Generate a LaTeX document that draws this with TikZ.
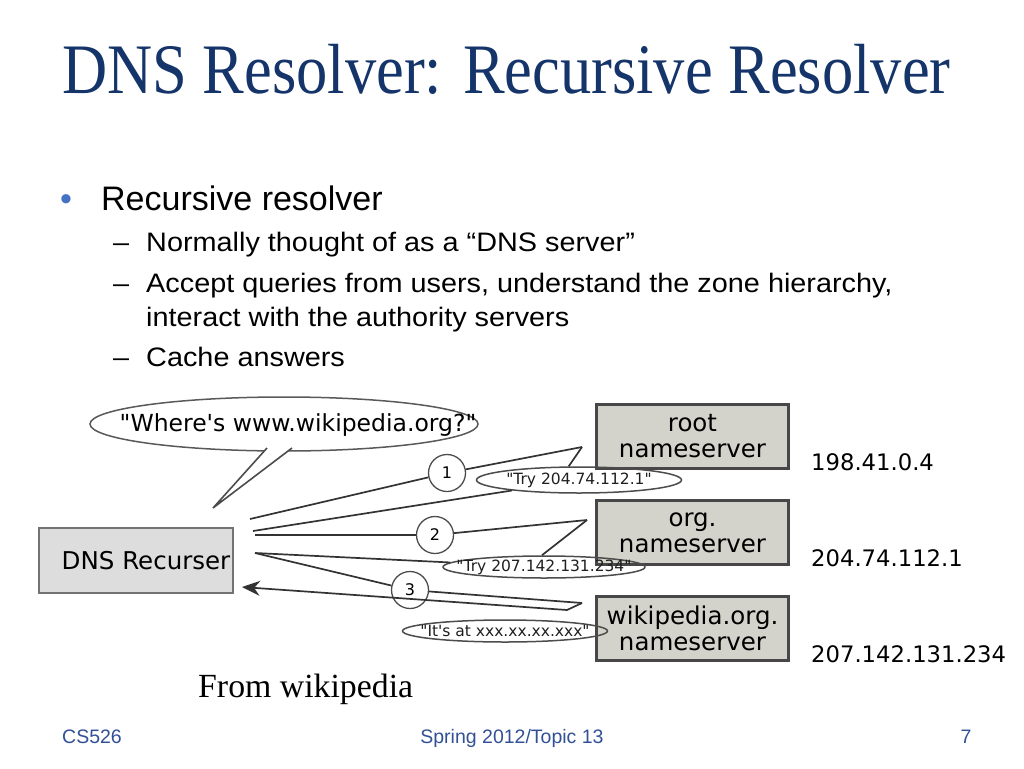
\documentclass[tikz,border=0pt]{standalone}
\usepackage{fontspec}
\setmainfont{Liberation Serif}
\setsansfont{Liberation Sans}
\newfontfamily\titlefont{Liberation Serif}[FakeStretch=0.88]
\newfontfamily\subfont{Liberation Sans}[FakeStretch=1.08]
\newfontfamily\vera{DejaVu Sans}
\usetikzlibrary{positioning, arrows.meta, shapes.geometric, calc}

\definecolor{titleblue}{RGB}{20,52,106}
\definecolor{dotblue}{RGB}{70,114,196}
\definecolor{footblue}{RGB}{50,80,150}
\definecolor{nsgray}{RGB}{212,211,203}
\definecolor{recgray}{RGB}{221,221,221}

\begin{document}
\begin{tikzpicture}[x=1pt, y=-1pt, >=Stealth, node distance=96pt, on grid,
  every node/.style={inner sep=0pt},
  slidetext/.style={anchor=base west, font=\fontsize{26.7}{30}\subfont},
  server/.style={draw=black!72, line width=2.5pt, fill=nsgray, minimum width=192pt,
    minimum height=64pt, align=center, font=\fontsize{24.5}{26}\vera},
  ipaddr/.style={anchor=base west, font=\fontsize{22.7}{26}\vera},
  stepnum/.style={circle, draw=black!70, line width=1.3pt, minimum size=37pt,
    font=\fontsize{16}{18}\vera},
  answer/.style={ellipse, draw=black!70, line width=1.5pt},
  answertext/.style={font=\fontsize{15.5}{18}\vera, text=black!88},
  wire/.style={draw=black!80, line width=1.7pt}]
  \useasboundingbox (0,0) rectangle (1024,768);

  \node[anchor=base west, text=titleblue, font=\fontsize{71}{80}\titlefont] (title) at (62,93.5)
    {DNS Resolver: Recursive Resolver};

  \node[slidetext, text=dotblue, font=\fontsize{34}{38}\sffamily] (dot) at (60,210) {•};
  \node[slidetext, font=\fontsize{34}{38}\sffamily] (item) at (101,210) {Recursive resolver};
  \node[slidetext] (d1) at (113,251.5) {–};
  \node[slidetext] (sub1) at (146,251.5) {Normally thought of as a “DNS server”};
  \node[slidetext] (d2) at (113,292.5) {–};
  \node[slidetext] (sub2) at (146,292.5) {Accept queries from users, understand the zone hierarchy,};
  \node[slidetext] (sub2b) at (146,326) {interact with the authority servers};
  \node[slidetext] (d3) at (113,366) {–};
  \node[slidetext] (sub3) at (146,366) {Cache answers};

  % the resolver and the three nameservers
  \node[draw=black!55, line width=2pt, fill=recgray, minimum width=194pt, minimum height=65pt,
    font=\fontsize{24.5}{26}\vera] (rec) at (136,560.5) {\hspace*{20pt}DNS Recurser};
  \node[server] (root) at (692.5,436.5) {root\\nameserver};
  \node[server] (org) [below=of root] {org.\\nameserver};
  \node[server] (wiki) [below=of org] {wikipedia.org.\\nameserver};
  \node[ipaddr] (ip1) at (811,470) {198.41.0.4};
  \node[ipaddr] (ip2) at (811,566) {204.74.112.1};
  \node[ipaddr] (ip3) at (811,662) {207.142.131.234};

  % question bubble
  \node[ellipse, draw=black!65, line width=1.5pt, minimum width=388pt, minimum height=54pt] (ask) at (284,424) {};
  \node[font=\fontsize{23.5}{26}\vera] (asktext) at (298,425) {"Where's www.wikipedia.org?"};
  \coordinate (tailL) at (267,448);
  \coordinate (tailR) at (292,448);
  \coordinate (tip) at (213,508);
  \fill[white] (tailL) -- (tip) -- (tailR) -- cycle;
  \draw[black!70, line width=1.6pt] (tailL) -- (tip) -- (tailR);

  % numbered queries
  \node[stepnum] (c1) at (447,473) {1};
  \node[stepnum] (c2) at (435,535) {2};
  \node[stepnum] (c3) at (410,590) {3};
  \coordinate (q1) at (250,519);
  \coordinate (q2) at (255,535);
  \coordinate (q3) at (255,553);
  \coordinate (s1) at (582,447);
  \coordinate (s2) at (587,520);
  \coordinate (s3) at (582,603);
  \draw[wire] (q1) -- (c1) -- (s1);
  \draw[wire] (q2) -- (c2) -- (s2);
  \draw[wire] (q3) -- (c3) -- (s3);

  % answers
  \node[answer, minimum width=205pt, minimum height=26pt] (a1) at (579,480) {};
  \node[answer, minimum width=202pt, minimum height=22pt] (a2) at (544,567) {};
  \node[answer, minimum width=205pt, minimum height=22pt] (a3) at (505,631) {};
  \node[answertext] at (a1) {"Try 204.74.112.1"};
  \node[answertext] at (a2) {"Try 207.142.131.234"};
  \node[answertext] at (a3) {"It's at xxx.xx.xx.xxx"};
  \coordinate (r1) at (253,531);
  \coordinate (t3) at (567,610);
  \coordinate (r3) at (242,587);
  \draw[wire] (s1) -- (a1.127);
  \draw[wire] (a1) -- (r1);
  \draw[wire] (s2) -- (a2.100);
  \draw[wire] (a2) -- (q3);
  \draw[wire, -{Stealth[length=18pt, width=15pt]}] (s3) -- (t3) -- (r3);

  \node[anchor=base west, font=\fontsize{33.8}{38}\selectfont] (src) at (198,697) {From wikipedia};

  \node[anchor=base west, text=footblue, font=\fontsize{19.5}{22}\sffamily] (foot1) at (62,743) {CS526};
  \node[anchor=base, text=footblue, font=\fontsize{19.5}{22}\sffamily] (foot2) at (512,743) {Spring 2012/Topic 13};
  \node[anchor=base, text=footblue, font=\fontsize{19.5}{22}\sffamily] (foot3) at (966,743) {7};
\end{tikzpicture}
\end{document}
